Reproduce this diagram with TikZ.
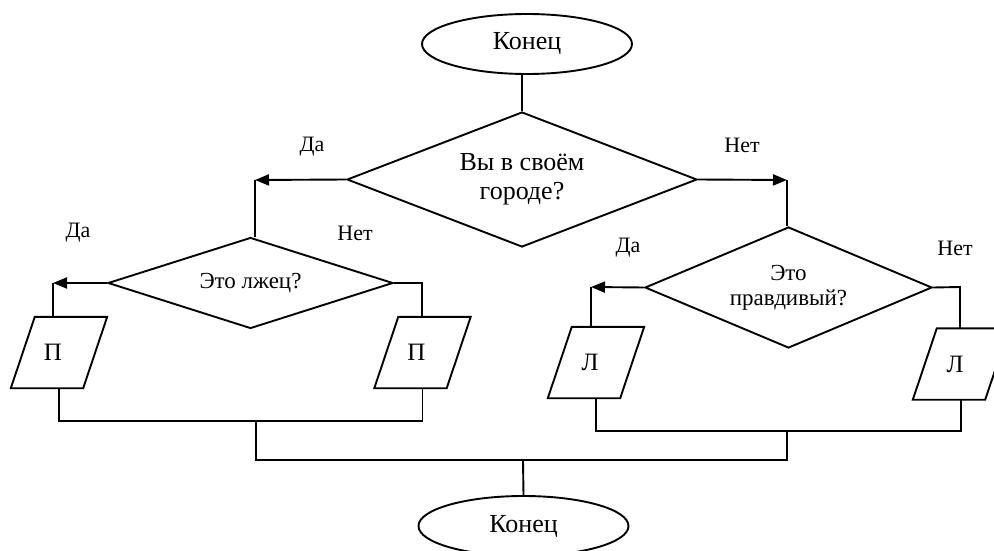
\documentclass[tikz,border=0pt]{standalone}
\usepackage{fontspec}
\setmainfont{Liberation Serif}
\usetikzlibrary{shapes.geometric,arrows.meta}
\begin{document}
\begin{tikzpicture}[x=1pt,y=-1pt,
  line/.style={line width=1.9pt},
  arr/.style={line width=1.9pt,-{Triangle[length=14pt,width=11pt]}},
  term/.style={ellipse,draw,line width=1.9pt,minimum width=210pt,minimum height=60pt,inner sep=0pt,font=\fontsize{26}{29}\selectfont},
  dec/.style={diamond,draw,line width=1.9pt,inner sep=0pt,align=center},
  io/.style={rectangle,minimum width=72pt,minimum height=71pt,inner sep=0pt,font=\fontsize{25}{28}\selectfont},
  lab/.style={font=\fontsize{22}{24}\selectfont,inner sep=0pt}]
\useasboundingbox (0,0) rectangle (994,551);
\clip (0,0) rectangle (994,551);
\fill[white] (0,0) rectangle (994,551);

\node[term] (e1) at (527,44) {Конец};
\node[dec,aspect=2.59,minimum width=350pt,minimum height=135pt,font=\fontsize{26}{29}\selectfont] (d1) at (522,179.5) {Вы в своём\\городе?};
\node[dec,aspect=3.13,minimum width=285pt,minimum height=91pt,font=\fontsize{23}{25}\selectfont] (d2) at (250.5,283) {Это лжец?};
\node[dec,aspect=2.37,minimum width=287pt,minimum height=121pt,font=\fontsize{23}{25}\selectfont] (d3) at (788.5,287.5) {Это\\правдивый?};
\node[io] (p1) at (59,352.5) {П\kern12pt};
\node[io] (p2) at (422.5,352.5) {П\kern12pt};
\node[io] (l1) at (596,362.5) {Л\kern12pt};
\node[io] (l2) at (961,364) {Л\kern12pt};
\foreach \n in {p1,p2,l1,l2}
  \draw[line] ([xshift=-12pt]\n.south west) -- ([xshift=-12pt]\n.south east)
    -- ([xshift=12pt]\n.north east) -- ([xshift=12pt]\n.north west) -- cycle;
\node[term] (e2) at (523.5,526) {Конец};

\node[lab] (t1) at (312,147) {Да};
\node[lab] (t2) at (742,145) {Нет};
\node[lab] (t3) at (78,233) {Да};
\node[lab] (t4) at (355,233) {Нет};
\node[lab] (t5) at (628,248) {Да};
\node[lab] (t6) at (955,248) {Нет};

\coordinate (c1) at (255,180);
\coordinate (c2) at (787,180);
\coordinate (c3) at (53,283);
\coordinate (c4) at (422,283);
\coordinate (c5) at (591,287);
\coordinate (c6) at (960,287);
\coordinate (j1) at (256,421);
\coordinate (j2) at (787,431);
\coordinate (j3) at (523,460);

\draw[line] (d1.north) -- (d1.north |- e1.south);
\draw[arr] (d1.west) -- (c1);
\draw[line] (c1) -- (c1 |- d2.north);
\draw[arr] (d1.east) -- (c2);
\draw[line] (c2) -- (c2 |- d3.north);
\draw[arr] (d2.west) -- (c3);
\draw[line] (c3) -- (c3 |- p1.north);
\draw[line] (d2.east) -- (c4) -- (c4 |- p2.north);
\draw[arr] (d3.west) -- (c5);
\draw[line] (c5) -- (c5 |- l1.north);
\draw[line] (d3.east) -- (c6) -- (c6 |- l2.north);
\draw[line] (p1.south) |- (j1) -| (p2.south);
\draw[line] (l1.south) |- (j2) -| (l2.south);
\draw[line] (j1) |- (j3) -| (j2);
\draw[line] (j3) -- (e2.north);
\end{tikzpicture}
\end{document}
